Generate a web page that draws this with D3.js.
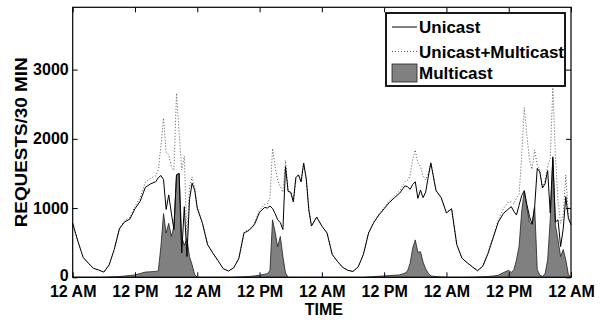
<!DOCTYPE html>
<html>
<head>
<meta charset="utf-8">
<script src="https://cdn.jsdelivr.net/npm/d3@7"></script>
<style>
  body { margin: 0; background: #fff; }
  svg { display: block; }
  text { font-family: "Liberation Sans", Arial, Helvetica, sans-serif; font-weight: bold; fill: #000; }
</style>
</head>
<body>
<div id="chart"></div>
<script>
// time of each sample in hours from the first midnight, half hour steps around the multicast bursts
const hours = [
  0,1,2,3,4,5,6,7,8,9,10,11,12,13,14,15,16,
  16.5,17,17.5,18,18.5,19,19.5,20,20.5,21,21.5,22,22.5,23,23.5,24,
  25,26,27,28,29,30,31,32,33,34,35,36,37,
  37.5,38,38.5,39,39.5,40,40.5,41,41.5,42,42.5,43,43.5,44,44.5,45,45.5,46,
  47,48,49,50,51,52,53,54,55,56,57,58,59,60,61,62,63,64,
  64.5,65,65.5,66,66.5,67,67.5,68,68.5,69,
  70,71,72,73,74,75,76,77,78,79,80,81,82,83,84,
  84.5,85,85.5,86,86.5,87,87.5,88,88.5,89,89.5,90,90.5,91,91.5,92,92.5,93,93.5,94,94.5,95,95.5,96
];

// requests per 30 min
const unicast = [
  780,520,290,205,130,105,75,175,400,700,800,840,990,1100,1300,1350,1380,
  1440,1470,1410,980,1190,930,690,1480,1500,350,1020,300,1120,1360,1260,1000,
  780,470,350,240,125,90,135,270,640,680,760,940,1010,
  1000,1030,995,920,830,790,690,1600,1240,1230,1090,1440,1480,1380,1650,1420,970,740,
  870,740,640,330,230,145,100,85,150,330,640,790,900,990,1080,1150,1215,1320,
  1310,1270,1340,1380,1140,1260,1150,1230,1450,1650,
  1250,1150,930,990,470,275,210,150,95,160,340,570,800,925,990,
  1020,950,900,1040,1180,1250,1050,880,770,1020,1575,1520,1290,1350,1540,930,1740,800,830,444,700,1165,850,760
];

const multicast = [
  0,0,0,0,0,0,2,5,8,12,18,25,35,55,75,80,85,
  95,450,920,640,780,590,730,1480,1500,590,460,560,300,180,40,0,
  0,0,0,0,0,0,2,5,8,12,20,30,45,
  50,100,830,650,440,590,300,60,0,0,0,0,0,0,0,0,0,0,
  0,0,0,0,0,0,0,0,0,0,5,10,15,20,25,30,35,60,
  90,200,420,540,360,370,220,120,60,20,
  10,5,0,0,0,0,0,2,5,8,12,18,30,70,100,
  70,110,250,450,950,1250,1000,800,760,1020,110,30,15,50,250,830,1700,750,540,300,400,250,40,0
];

const combined = [
  780,520,290,205,130,105,77,180,408,712,818,865,1025,1155,1375,1430,1465,
  1560,1900,2300,1800,1770,1600,1550,2660,2100,1550,1750,560,1300,1450,1300,1000,
  780,470,350,240,125,90,137,275,648,692,780,970,1055,
  1060,1150,1860,1600,1400,1310,1230,1690,1240,1230,1090,1440,1480,1380,1650,1420,970,740,
  870,740,640,330,230,145,100,85,150,330,645,800,915,1010,1105,1180,1250,1380,
  1400,1470,1700,1840,1650,1600,1460,1410,1500,1660,
  1260,1155,930,990,470,275,210,152,100,168,352,588,830,995,1090,
  1090,1060,1150,1200,1750,2450,2050,1700,1560,1840,1620,1550,1300,1390,1600,1720,2740,1750,1100,780,900,1480,900,760
];

const xTicks = [0, 12, 24, 36, 48, 60, 72, 84, 96];
const xTickLabels = ["12 AM", "12 PM", "12 AM", "12 PM", "12 AM", "12 PM", "12 AM", "12 PM", "12 AM"];
const yTicks = [0, 1000, 2000, 3000];
const legendLabels = ["Unicast", "Unicast+Multicast", "Multicast"];

class trafficChart {
  constructor(opts) {
    this.el = opts.el;
    this.width = 603;
    this.height = 320;
    this.margin = { top: 7.3, right: 32, bottom: 42.7, left: 72.7 };
    this.w = this.width - this.margin.left - this.margin.right;
    this.h = this.height - this.margin.top - this.margin.bottom;

    this.data = hours.map((t, i) => ({ t: t, uni: unicast[i], multi: multicast[i], both: combined[i] }));

    this.initScales();
    this.draw();
    this.drawLegend();
  }

  initScales() {
    this.x = d3.scaleLinear().domain([0, 96]).range([0, this.w]);
    this.y = d3.scaleLinear().domain([0, 3900]).range([this.h, 0]);
  }

  draw() {
    this.svg = d3.select(this.el).append("svg")
      .attr("width", this.width)
      .attr("height", this.height);

    this.g = this.svg.append("g")
      .attr("transform", `translate(${this.margin.left},${this.margin.top})`);

    // multicast as a grey area with a dark edge
    const area = d3.area()
      .x(d => this.x(d.t))
      .y0(this.h)
      .y1(d => this.y(d.multi));

    this.g.append("path")
      .datum(this.data)
      .attr("d", area)
      .attr("fill", "#808080")
      .attr("stroke", "#202020")
      .attr("stroke-width", 0.8);

    // unicast+multicast dotted
    const lineBoth = d3.line().x(d => this.x(d.t)).y(d => this.y(d.both));
    this.g.append("path")
      .datum(this.data)
      .attr("d", lineBoth)
      .attr("fill", "none")
      .attr("stroke", "#444")
      .attr("stroke-width", 0.9)
      .attr("stroke-dasharray", "1,2");

    // unicast solid
    const lineUni = d3.line().x(d => this.x(d.t)).y(d => this.y(d.uni));
    this.g.append("path")
      .datum(this.data)
      .attr("d", lineUni)
      .attr("fill", "none")
      .attr("stroke", "#000")
      .attr("stroke-width", 1);

    // axes, matlab style ticks pointing inwards on all four sides
    const xAxis = d3.axisBottom(this.x)
      .tickValues(xTicks)
      .tickFormat((d, i) => xTickLabels[i])
      .tickSizeInner(-5).tickSizeOuter(0).tickPadding(8);
    const gx = this.g.append("g")
      .attr("transform", `translate(0,${this.h})`)
      .call(xAxis);
    gx.selectAll("text").style("font-size", "16px");

    const yAxis = d3.axisLeft(this.y)
      .tickValues(yTicks)
      .tickFormat(d3.format("d"))
      .tickSizeInner(-5).tickSizeOuter(0).tickPadding(4);
    const gy = this.g.append("g").call(yAxis);
    gy.selectAll("text").style("font-size", "16px");
    // the zero label sits a touch higher so it clears the time labels
    gy.selectAll(".tick text").filter(d => d === 0).attr("dy", "0.2em");

    this.g.append("g")
      .call(d3.axisTop(this.x).tickValues(xTicks).tickFormat("").tickSizeInner(-5).tickSizeOuter(0));
    this.g.append("g")
      .attr("transform", `translate(${this.w},0)`)
      .call(d3.axisRight(this.y).tickValues(yTicks).tickFormat("").tickSizeInner(-5).tickSizeOuter(0));

    this.g.selectAll(".domain").remove();
    this.g.selectAll(".tick line").attr("stroke", "#000");

    this.g.append("rect")
      .attr("width", this.w)
      .attr("height", this.h)
      .attr("fill", "none")
      .attr("stroke", "#000")
      .attr("stroke-width", 1.2);

    // axis titles
    this.svg.append("text")
      .attr("x", this.margin.left + this.w / 2 + 2)
      .attr("y", 315)
      .attr("text-anchor", "middle")
      .style("font-size", "16px")
      .text("TIME");

    this.svg.append("text")
      .attr("transform", `translate(27,${this.margin.top + this.h / 2}) rotate(-90)`)
      .attr("text-anchor", "middle")
      .attr("textLength", 170)
      .attr("lengthAdjust", "spacingAndGlyphs")
      .style("font-size", "16px")
      .text("REQUESTS/30 MIN");
  }

  drawLegend() {
    const lg = this.svg.append("g").attr("transform", "translate(386,13)");

    lg.append("rect")
      .attr("width", 179)
      .attr("height", 73)
      .attr("fill", "#fff")
      .attr("stroke", "#000")
      .attr("stroke-width", 1.8);

    const rows = [14, 38.5, 60];

    // line samples
    lg.append("line").attr("x1", 6).attr("x2", 31).attr("y1", rows[0]).attr("y2", rows[0])
      .attr("stroke", "#000").attr("stroke-width", 1);
    lg.append("line").attr("x1", 6).attr("x2", 31).attr("y1", rows[1]).attr("y2", rows[1])
      .attr("stroke", "#444").attr("stroke-width", 0.9).attr("stroke-dasharray", "1,2");
    lg.append("rect").attr("x", 6).attr("y", rows[2] - 9).attr("width", 25).attr("height", 18)
      .attr("fill", "#808080").attr("stroke", "#202020").attr("stroke-width", 0.8);

    lg.selectAll("text.lbl")
      .data(legendLabels)
      .enter()
      .append("text")
      .attr("class", "lbl")
      .attr("x", 33)
      .attr("y", (d, i) => rows[i])
      .attr("dy", "0.36em")
      .style("font-size", "17px")
      .text(d => d);
  }
}

new trafficChart({ el: "#chart" });
</script>
</body>
</html>
